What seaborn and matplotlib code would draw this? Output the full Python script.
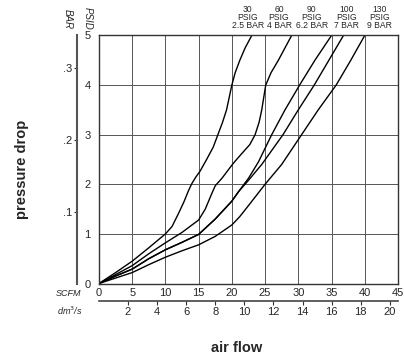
import pandas as pd
import matplotlib
matplotlib.use('Agg')
import matplotlib.pyplot as plt
import seaborn as sns
from matplotlib.transforms import blended_transform_factory

# Data (SCFM vs PSID)
flow_30 = [0, 2.5, 5, 7.5, 10, 11, 12, 12.8, 13.5, 14, 14.6, 15.2, 16.2, 17.2, 17.9,
           18.6, 19.2, 19.6, 20, 20.5, 21.2, 22.0, 23.0]
dp_30 = [0, 0.22, 0.45, 0.72, 1.0, 1.15, 1.42, 1.65, 1.88, 2.02, 2.15, 2.26, 2.5, 2.75, 3.0,
         3.25, 3.5, 3.75, 4.0, 4.25, 4.5, 4.75, 5.0]

flow_60 = [0, 2.5, 5, 7.5, 10, 12.5, 15, 16, 17, 17.5, 18.5, 20.2, 21.5, 22.7, 23.5,
           24.1, 24.5, 24.8, 25.1, 25.9, 27, 28, 29]
dp_60 = [0, 0.18, 0.36, 0.6, 0.82, 1.03, 1.28, 1.5, 1.82, 1.97, 2.12, 2.42, 2.62, 2.8, 3.0,
         3.25, 3.5, 3.75, 4.0, 4.25, 4.5, 4.75, 5.0]

flow_90 = [0, 2.5, 5, 7.5, 10, 12.5, 15, 17.5, 20, 21, 22.5, 24, 26, 28, 30.2, 32.5, 35]
dp_90 = [0, 0.15, 0.29, 0.5, 0.68, 0.83, 0.99, 1.3, 1.66, 1.85, 2.12, 2.45, 3.0, 3.5, 4.0, 4.5, 5.0]

flow_100 = [0, 2.5, 5, 7.5, 10, 12.5, 15, 17.5, 20, 21, 22.5, 24.5, 27.7, 30, 32.4, 34.6, 36.8]
dp_100 = [0, 0.15, 0.29, 0.5, 0.68, 0.83, 0.99, 1.3, 1.66, 1.85, 2.08, 2.4, 3.0, 3.5, 4.0, 4.5, 5.0]

flow_130 = [0, 2.5, 5, 7.5, 10, 12.5, 15, 17.5, 20, 21.2, 22.5, 25, 27.5, 30.5, 33, 35.7, 37.9, 40]
dp_130 = [0, 0.11, 0.22, 0.38, 0.53, 0.66, 0.78, 0.95, 1.18, 1.35, 1.57, 2.0, 2.4, 3.0, 3.5,
          4.0, 4.5, 5.0]

curve_names = ['30 PSIG', '60 PSIG', '90 PSIG', '100 PSIG', '130 PSIG']
curve_labels = ['30\nPSIG\n2.5 BAR', '60\nPSIG\n4 BAR', '90\nPSIG\n6.2 BAR',
                '100\nPSIG\n7 BAR', '130\nPSIG\n9 BAR']
label_x = [22.4, 27.1, 32.0, 37.3, 42.2]

scfm_ticks = [0, 5, 10, 15, 20, 25, 30, 35, 40, 45]
psid_ticks = [0, 1, 2, 3, 4, 5]
dm3_ticks = [2, 4, 6, 8, 10, 12, 14, 16, 18, 20]
bar_ticks = [0.1, 0.2, 0.3]

PSI_PER_BAR = 14.5
DM3S_PER_SCFM = 0.457  # as drawn on the chart's second scale

# Long-form table for seaborn
frames = []
for name, fx, fy in zip(curve_names,
                        [flow_30, flow_60, flow_90, flow_100, flow_130],
                        [dp_30, dp_60, dp_90, dp_100, dp_130]):
    frames.append(pd.DataFrame({'flow': fx, 'dp': fy, 'curve': name}))
df = pd.concat(frames, ignore_index=True)

sns.set_style('white')
plt.rcParams['font.family'] = ['Liberation Sans', 'DejaVu Sans']

fig = plt.figure(figsize=(4.04, 3.6), dpi=100)
ax = fig.add_axes([0.245, 0.2125, 0.740, 0.689])

sns.lineplot(data=df, x='flow', y='dp', hue='curve', palette=['black'] * 5,
             sort=False, estimator=None, legend=False, linewidth=1.0, ax=ax)

ax.set_xlim(0, 45)
ax.set_ylim(0, 5)
ax.set_xticks(scfm_ticks)
ax.set_yticks(psid_ticks)
ax.set_xticklabels([str(t) for t in scfm_ticks], fontsize=8)
ax.set_yticklabels([str(t) for t in psid_ticks], fontsize=8)
ax.tick_params(axis='x', length=0, pad=3)
ax.tick_params(axis='y', length=0, pad=6)
ax.set_xlabel('')
ax.set_ylabel('')
ax.grid(True, color='#555555', linewidth=0.7)
for s in ax.spines.values():
    s.set_color('#333333')
    s.set_linewidth(1.0)
    s.set_visible(True)

# second scales: bar on the left, dm3/s underneath
bar_ax = ax.secondary_yaxis(-0.0736, functions=(lambda p: p / PSI_PER_BAR,
                                                lambda b: b * PSI_PER_BAR))
bar_ax.set_yticks(bar_ticks)
bar_ax.set_yticklabels([('%.1f' % b).lstrip('0') for b in bar_ticks], fontsize=8)
bar_ax.tick_params(axis='y', length=2.5, width=0.8, pad=1, color='#333333')
bar_ax.spines['left'].set_color('#555555')
bar_ax.spines['left'].set_linewidth(1.5)

dm_ax = ax.secondary_xaxis(-0.0706, functions=(lambda f: f * DM3S_PER_SCFM,
                                               lambda d: d / DM3S_PER_SCFM))
dm_ax.set_xticks(dm3_ticks)
dm_ax.set_xticklabels([str(t) for t in dm3_ticks], fontsize=8)
dm_ax.tick_params(axis='x', length=3, width=0.8, pad=1.5, color='#333333')
dm_ax.spines['bottom'].set_color('#444444')
dm_ax.spines['bottom'].set_linewidth(1.2)

# curve labels above the frame
trans = blended_transform_factory(ax.transData, ax.transAxes)
for lx, lab in zip(label_x, curve_labels):
    ax.text(lx, 1.02, lab, transform=trans, ha='center', va='bottom',
            fontsize=6.2, linespacing=0.92)

# unit captions
fig.text(88 / 404, 1 - 18 / 360, 'PSID', rotation=270, style='italic',
         fontsize=7, ha='center', va='center')
fig.text(67.5 / 404, 1 - 19 / 360, 'BAR', rotation=270, style='italic',
         fontsize=7, ha='center', va='center')
fig.text(69 / 404, 1 - 293.5 / 360, 'SCFM', style='italic', fontsize=6.5,
         ha='center', va='center')
fig.text(69.5 / 404, 1 - 311 / 360, 'dm$^3$/s', style='italic', fontsize=6.5,
         ha='center', va='center')

fig.text(22 / 404, 1 - 169 / 360, 'pressure drop', rotation=90, fontweight='bold',
         fontsize=10.5, ha='center', va='center')
fig.text(237 / 404, 1 - 348 / 360, 'air flow', fontweight='bold',
         fontsize=10.5, ha='center', va='center')

fig.savefig('out.png', dpi=100)
